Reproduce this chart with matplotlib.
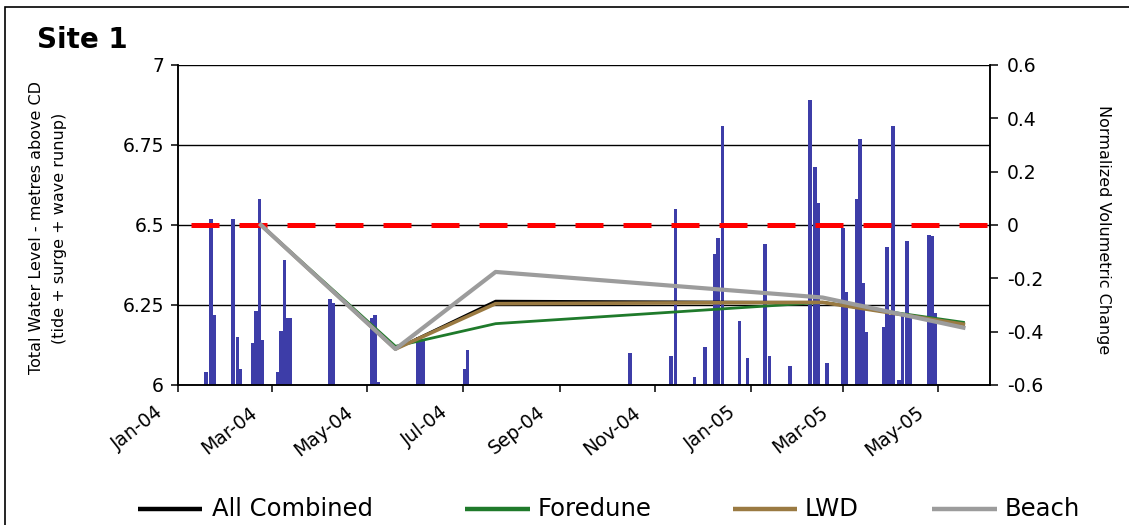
import numpy as np
import matplotlib
matplotlib.use('Agg')
import matplotlib.pyplot as plt
import matplotlib.dates as mdates
import matplotlib.transforms as mtransforms
from matplotlib.lines import Line2D
from matplotlib.patches import Rectangle

plt.rcParams['font.family'] = ['DejaVu Sans']

# ---------------- data ----------------
bar_dates = [
    '2004-01-19', '2004-01-22', '2004-01-24',
    '2004-02-05', '2004-02-08', '2004-02-10',
    '2004-02-18', '2004-02-20', '2004-02-22', '2004-02-24',
    '2004-03-05', '2004-03-07', '2004-03-09', '2004-03-11', '2004-03-13',
    '2004-04-07', '2004-04-09',
    '2004-05-04', '2004-05-06', '2004-05-08',
    '2004-06-02', '2004-06-04', '2004-06-06',
    '2004-07-02', '2004-07-04',
    '2004-10-16',
    '2004-11-11', '2004-11-14',
    '2004-11-26',
    '2004-12-03',
    '2004-12-09', '2004-12-11', '2004-12-14',
    '2004-12-25', '2004-12-30',
    '2005-01-10', '2005-01-13',
    '2005-01-26',
    '2005-02-08', '2005-02-11', '2005-02-13',
    '2005-02-19',
    '2005-03-01', '2005-03-03',
    '2005-03-10', '2005-03-12', '2005-03-14', '2005-03-16',
    '2005-03-27', '2005-03-29', '2005-03-31', '2005-04-02',
    '2005-04-06', '2005-04-08', '2005-04-11', '2005-04-13',
    '2005-04-25', '2005-04-27', '2005-04-29',
]
bar_levels = [
    6.04, 6.52, 6.22,
    6.52, 6.15, 6.05,
    6.13, 6.23, 6.58, 6.14,
    6.04, 6.17, 6.39, 6.21, 6.21,
    6.27, 6.255,
    6.21, 6.22, 6.01,
    6.15, 6.15, 6.14,
    6.05, 6.11,
    6.10,
    6.09, 6.55,
    6.025,
    6.12,
    6.41, 6.46, 6.81,
    6.20, 6.085,
    6.44, 6.09,
    6.06,
    6.89, 6.68, 6.57,
    6.07,
    6.49, 6.29,
    6.58, 6.77, 6.32, 6.165,
    6.18, 6.43, 6.22, 6.81,
    6.015, 6.22, 6.45, 6.21,
    6.47, 6.465, 6.225,
]

line_dates = ['2004-02-23', '2004-05-19', '2004-07-22', '2005-02-16', '2005-05-17']
all_combined = [0.0, -0.465, -0.285, -0.29, -0.37]
foredune = [0.0, -0.455, -0.37, -0.29, -0.365]
lwd = [0.0, -0.465, -0.295, -0.29, -0.372]
beach = [0.0, -0.465, -0.176, -0.272, -0.385]

threshold_dates = ['2004-01-09', '2005-06-03']
threshold_values = [0.0, 0.0]

x_limits = ['2004-01-01', '2005-06-03']
x_tick_dates = ['2004-01-01', '2004-03-01', '2004-05-01', '2004-07-01', '2004-09-01',
                '2004-11-01', '2005-01-01', '2005-03-01', '2005-05-01']
x_tick_labels = ['Jan-04', 'Mar-04', 'May-04', 'Jul-04', 'Sep-04',
                 'Nov-04', 'Jan-05', 'Mar-05', 'May-05']
left_ticks = [6, 6.25, 6.5, 6.75, 7]
left_labels = ['6', '6.25', '6.5', '6.75', '7']
right_ticks = [-0.6, -0.4, -0.2, 0, 0.2, 0.4, 0.6]
right_labels = ['-0.6', '-0.4', '-0.2', '0', '0.2', '0.4', '0.6']

series_names = ['All Combined', 'Foredune', 'LWD', 'Beach']


def to_num(ds):
    return mdates.date2num(np.array(ds, dtype='datetime64[D]'))


# ---------------- figure ----------------
W, H = 1129, 525
fig = plt.figure(figsize=(W / 100, H / 100), dpi=100)


def fx(px):
    return px / W


def fy(py):
    return 1 - py / H


ax = fig.add_axes([fx(178), fy(385), fx(990) - fx(178), fy(65) - fy(385)])

xb = to_num(bar_dates)
lv = np.array(bar_levels)
ax.bar(xb, lv - 6, bottom=6, width=2.3, color='#3D3DA8', edgecolor='none',
       zorder=2, align='center')

ax.set_ylim(6, 7)
ax.set_xlim(to_num(x_limits))
ax.set_yticks(left_ticks)
ax.set_yticklabels(left_labels)
ax.yaxis.grid(True, color='black', linewidth=1.0, zorder=0)
ax.set_axisbelow(True)

ax.tick_params(axis='both', direction='out', length=5, width=1.1,
               labelsize=13.5, colors='black')
ax.tick_params(axis='x', pad=6)
ax.tick_params(axis='y', pad=5)

ax.set_xticks(to_num(x_tick_dates))
ax.set_xticklabels(x_tick_labels, rotation=38, ha='right', va='center',
                   rotation_mode='anchor')
offset = mtransforms.ScaledTranslation(-17 / 100, -10 / 100, fig.dpi_scale_trans)
for lab in ax.get_xticklabels():
    lab.set_transform(lab.get_transform() + offset)

for s in ['left', 'bottom', 'right']:
    ax.spines[s].set_linewidth(1.1)
ax.spines['top'].set_visible(False)

ax2 = ax.twinx()
ax2.set_ylim(-0.6, 0.6)
ax2.set_yticks(right_ticks)
ax2.set_yticklabels(right_labels)
ax2.tick_params(axis='y', direction='out', length=6, width=1.1,
                labelsize=13.5, pad=6)
for s in ['left', 'bottom', 'right']:
    ax2.spines[s].set_linewidth(1.1)
ax2.spines['top'].set_visible(False)

ax2.plot(to_num(threshold_dates), threshold_values, color='#FF0000', lw=3.6,
         dashes=(5.6, 4.0), solid_capstyle='butt', dash_capstyle='butt', zorder=3)

xl = to_num(line_dates)
colors = ['#000000', '#1F7A2B', '#9A7A42', '#9C9C9C']
widths = [1.8, 2.0, 2.6, 3.0]
for vals, c, w in zip([all_combined, foredune, lwd, beach], colors, widths):
    ax2.plot(xl, vals, color=c, lw=w, zorder=4, solid_joinstyle='round')

# ---------------- texts ----------------
fig.text(fx(37), fy(40), 'Site 1', fontsize=20, fontweight='bold',
         ha='left', va='center')

fig.text(fx(48), fy(228),
         'Total Water Level - metres above CD\n(tide + surge + wave runup)',
         rotation=90, ha='center', va='center', multialignment='center',
         fontsize=11.5, linespacing=1.6)

fig.text(fx(1103), fy(230), 'Normalized Volumetric Change', rotation=270,
         ha='center', va='center', fontsize=11.5)

# ---------------- legend ----------------
leg_y = fy(509)
handle_x = [(138, 202), (465, 530), (733, 797), (932, 997)]
text_x = [212, 538, 805, 1005]
for name, c, (h0, h1), tx in zip(series_names, colors, handle_x, text_x):
    fig.add_artist(Line2D([fx(h0), fx(h1)], [leg_y, leg_y], color=c, lw=3.2,
                          transform=fig.transFigure, solid_capstyle='butt'))
    fig.text(fx(tx), leg_y, name, fontsize=17.5, ha='left', va='center')

# outer border of the chart area
fig.add_artist(Rectangle((fx(5), -0.05), 1.2, fy(7) + 0.05, transform=fig.transFigure,
                         fill=False, edgecolor='black', linewidth=1.2))

fig.savefig('out.png', dpi=100)
